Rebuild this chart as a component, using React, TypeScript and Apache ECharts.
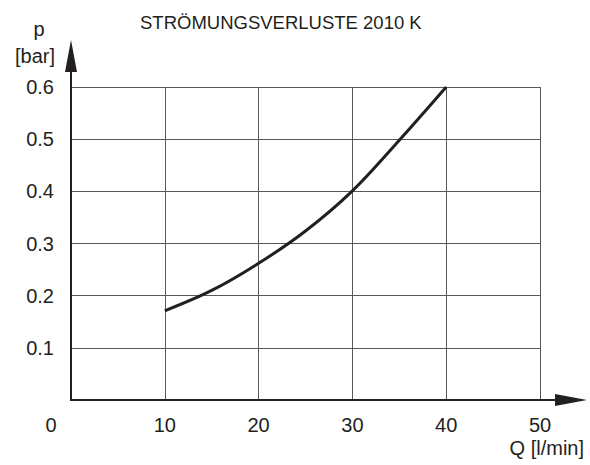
import React, { useEffect, useRef } from "react";
import * as echarts from "echarts";

const titleText = "STRÖMUNGSVERLUSTE 2010 K";
const xTicks = [0, 10, 20, 30, 40, 50];
const yTicks = [0, 0.1, 0.2, 0.3, 0.4, 0.5, 0.6];
const flowQ = [10, 15, 20, 25, 30, 35, 40];
const pressureP = [0.171, 0.21, 0.262, 0.324, 0.401, 0.498, 0.6];
const xName = "Q [l/min]";
const yName = ["p", "[bar]"];

const FONT = "'Liberation Sans', Arial, Helvetica, sans-serif";
const INK = "#231f20";
const GRIDC = "#58595b";
const FS = 20;

export default function App() {
  const ref = useRef<HTMLDivElement>(null);
  useEffect(() => {
    if (!ref.current) return;
    const chart = echarts.init(ref.current, null, { renderer: "svg" });
    const xMin = xTicks[0];
    const xMax = xTicks[xTicks.length - 1];
    const yMin = yTicks[0];
    const yMax = yTicks[yTicks.length - 1];
    chart.setOption({
      animation: false,
      backgroundColor: "#ffffff",
      title: {
        text: titleText,
        left: 135,
        top: 8,
        textStyle: { fontFamily: FONT, fontSize: 18.5, fontWeight: "normal", color: INK },
      },
      grid: { left: 71, right: 50, top: 87, bottom: 65, containLabel: false },
      xAxis: {
        type: "value",
        min: xMin,
        max: xMax,
        interval: 10,
        axisLine: { show: false },
        axisTick: { show: false },
        splitLine: { show: true, lineStyle: { color: GRIDC, width: 1 } },
        axisLabel: {
          margin: 15,
          fontFamily: FONT,
          fontSize: FS,
          color: INK,
          formatter: (v: number) => (v === 0 ? "" : String(v)),
        },
      },
      yAxis: {
        type: "value",
        min: yMin,
        max: yMax,
        interval: 0.1,
        axisLine: { show: false },
        axisTick: { show: false },
        splitLine: { show: true, lineStyle: { color: GRIDC, width: 1 } },
        axisLabel: {
          margin: 17,
          fontFamily: FONT,
          fontSize: FS,
          color: INK,
          formatter: (v: number) => (v === 0 ? "" : v.toFixed(1)),
        },
      },
      series: [
        {
          type: "line",
          data: flowQ.map((q, i) => [q, pressureP[i]]),
          smooth: 0.35,
          showSymbol: false,
          lineStyle: { color: INK, width: 3 },
        },
      ],
    });

    const o = chart.convertToPixel({ gridIndex: 0 }, [xMin, yMin]) as number[];
    const e = chart.convertToPixel({ gridIndex: 0 }, [xMax, yMax]) as number[];
    const xTip = e[0] + 47;
    const yTip = e[1] - 47;
    const aLen = 32;
    const aHalf = 6;
    chart.setOption({
      graphic: [
        {
          type: "line",
          shape: { x1: o[0], y1: o[1], x2: xTip - aLen + 2, y2: o[1] },
          style: { stroke: INK, lineWidth: 2 },
        },
        {
          type: "polygon",
          shape: { points: [[xTip - aLen, o[1] - aHalf], [xTip, o[1]], [xTip - aLen, o[1] + aHalf]] },
          style: { fill: INK },
        },
        {
          type: "line",
          shape: { x1: o[0], y1: o[1] + 1, x2: o[0], y2: yTip + aLen - 2 },
          style: { stroke: INK, lineWidth: 2 },
        },
        {
          type: "polygon",
          shape: { points: [[o[0] - aHalf, yTip + aLen], [o[0], yTip], [o[0] + aHalf, yTip + aLen]] },
          style: { fill: INK },
        },
        {
          type: "text",
          x: o[0] - 20,
          y: o[1] + 25,
          style: { text: "0", fontFamily: FONT, fontSize: FS, fill: INK, textAlign: "center", textVerticalAlign: "middle" },
        },
        {
          type: "text",
          x: xTip - 3,
          y: o[1] + 48,
          style: { text: xName, fontFamily: FONT, fontSize: FS, fill: INK, textAlign: "right", textVerticalAlign: "middle" },
        },
        {
          type: "text",
          x: o[0] - 32,
          y: 29,
          style: { text: yName[0], fontFamily: FONT, fontSize: FS, fill: INK, textAlign: "center", textVerticalAlign: "middle" },
        },
        {
          type: "text",
          x: o[0] - 36,
          y: 56,
          style: { text: yName[1], fontFamily: FONT, fontSize: FS, fill: INK, textAlign: "center", textVerticalAlign: "middle" },
        },
      ],
    });

    return () => chart.dispose();
  }, []);
  return (
    <div
      ref={ref}
      style={{ position: "fixed", left: 0, top: 0, width: 590, height: 465, background: "#fff" }}
    />
  );
}
